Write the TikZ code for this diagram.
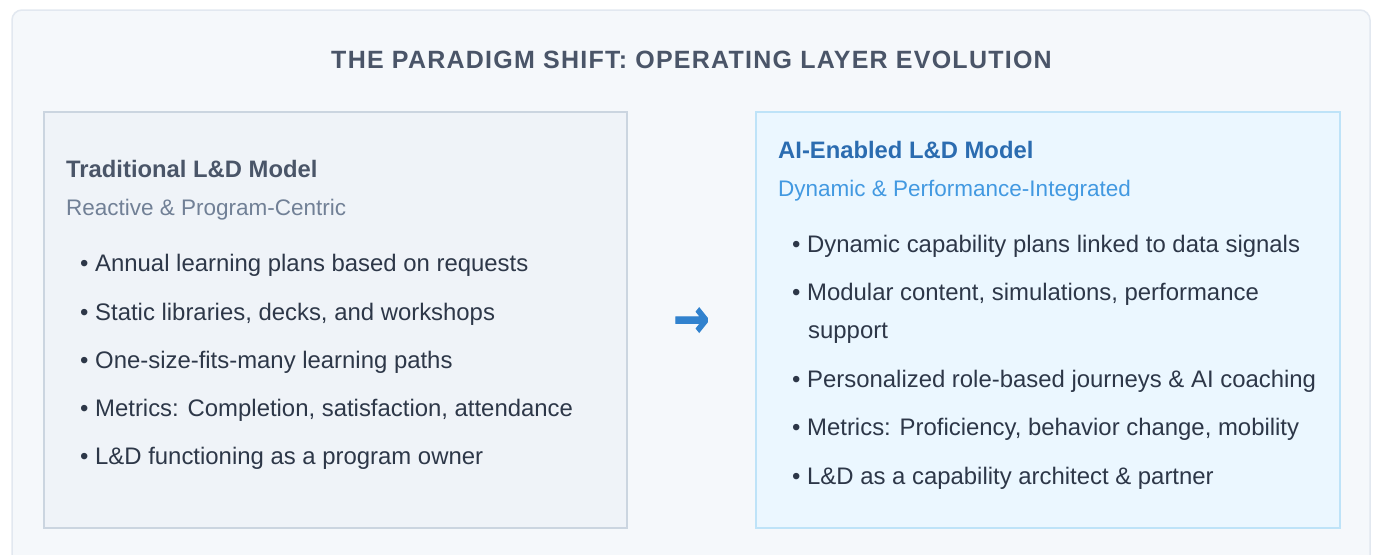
\documentclass[tikz,border=0pt]{standalone}
\usepackage{fontspec}
\setmainfont{Liberation Sans}
\newfontfamily\arrowfont[FakeBold=2]{DejaVu Sans Bold}
\usetikzlibrary{positioning}
\definecolor{slatedark}{HTML}{4A5568}
\definecolor{slatemid}{HTML}{718096}
\definecolor{inkdark}{HTML}{2D3748}
\definecolor{framefill}{HTML}{F5F8FB}
\definecolor{frameline}{HTML}{E2E8F0}
\definecolor{oldfill}{HTML}{EFF3F8}
\definecolor{oldline}{HTML}{CBD5E0}
\definecolor{newfill}{HTML}{EBF7FF}
\definecolor{newline}{HTML}{BEE3F8}
\definecolor{newhead}{HTML}{2B6CB0}
\definecolor{newtag}{HTML}{4299E1}
\definecolor{shiftblue}{HTML}{3182CE}
\tikzset {
  layer box/.style = {
    line width = 1.5pt
  },
  % traditional side
  old box/.style = {
    layer box,
    draw = oldline,
    fill = oldfill
  },
  % ai-enabled side
  new box/.style = {
    layer box,
    draw = newline,
    fill = newfill
  }
}
\tikzset {
  text line/.style = {
    anchor = base west,
    inner sep = 0
  },
  % title across the top
  title text/.style = {
    anchor = base,
    inner sep = 0,
    text = slatedark,
    font = \fontsize{25}{30}\selectfont\bfseries\addfontfeature{LetterSpace=5}
  },
  model name/.style = {
    text line,
    font = \fontsize{23.8}{30}\selectfont\bfseries
  },
  model tag/.style = {
    text line,
    font = \fontsize{22.5}{30}\selectfont
  },
  % one bullet point
  point/.style = {
    text line,
    text = inkdark,
    font = \fontsize{23.9}{38}\selectfont
  },
  shift arrow/.style = {
    anchor = base,
    inner sep = 0,
    text = shiftblue,
    font = \fontsize{54}{54}\selectfont\arrowfont
  }
}

\begin{document}
\begin{tikzpicture}[x=1pt, y=-1pt]
    \useasboundingbox[fill=white] (0,0) rectangle (1375,554);
    \draw[frameline, fill=framefill, line width=1.5pt, rounded corners=10pt]
      (12,10) rectangle (1370,575);

    \node[title text] (title) at (691.5,68.3)
      {THE PARADIGM SHIFT: OPERATING LAYER EVOLUTION};

    \draw[old box] (44,112) rectangle (627,528);
    \draw[new box] (756,112) rectangle (1340,528);

    % traditional model
    \node[model name, text=slatedark] (old name) at (66,177.3) {Traditional L\&D Model};
    \node[model tag, text=slatemid] (old tag) at (66,215.7) {Reactive \& Program-Centric};
    \node[point] (old 1) at (80,271.7) {• Annual learning plans based on requests};
    \node[point] (old 2) at (80,320) {• Static libraries, decks, and workshops};
    \node[point] (old 3) at (80,368.2) {• One-size-fits-many learning paths};
    \node[point] (old 4) at (80,416.5) {• Metrics: Completion, satisfaction, attendance};
    \node[point] (old 5) at (80,464.7) {• L\&D functioning as a program owner};

    \node[shift arrow] (shift) at (691.5,337) {\scalebox{0.8}[1]{→}};

    % ai-enabled model
    \node[model name, text=newhead] (new name) at (778,158.3) {AI-Enabled L\&D Model};
    \node[model tag, text=newtag] (new tag) at (778,196.7) {Dynamic \& Performance-Integrated};
    \node[point] (new 1) at (792,252.7) {• Dynamic capability plans linked to data signals};
    \node[point] (new 2) at (792,300.7) {• Modular content, simulations, performance};
    \node[point] (new 2b) at (808,338.7) {support};
    \node[point] (new 3) at (792,387.7) {• Personalized role-based journeys \& AI coaching};
    \node[point] (new 4) at (792,435.7) {• Metrics: Proficiency, behavior change, mobility};
    \node[point] (new 5) at (792,484.7) {• L\&D as a capability architect \& partner};
\end{tikzpicture}
\end{document}
